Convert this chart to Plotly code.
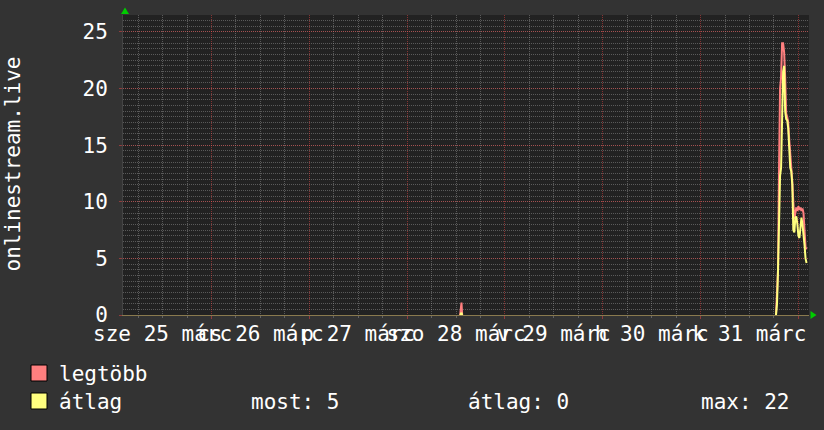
import plotly.graph_objects as go

# ---------------- data ----------------
day_label_times = ["2020-03-25 12:00", "2020-03-26 12:00", "2020-03-27 12:00", "2020-03-28 12:00",
                   "2020-03-29 12:00", "2020-03-30 12:00", "2020-03-31 12:00"]
day_labels = ["sze 25 márc", "cs 26 márc", "p 27 márc", "szo 28 márc",
              "v 29 márc", "h 30 márc", "k 31 márc"]

spike_times = ["2020-03-28 13:00", "2020-03-28 13:10", "2020-03-28 13:20", "2020-03-28 13:30"]
spike_max = [0, 1.1, 1.1, 0]
spike_avg = [0, 0.2, 0.2, 0]

end_times = ["2020-03-31 18:30", "2020-03-31 18:45", "2020-03-31 19:00", "2020-03-31 19:15",
             "2020-03-31 19:30", "2020-03-31 19:45", "2020-03-31 20:00", "2020-03-31 20:15",
             "2020-03-31 20:30", "2020-03-31 20:45", "2020-03-31 21:00", "2020-03-31 21:15",
             "2020-03-31 21:30", "2020-03-31 21:45", "2020-03-31 22:00", "2020-03-31 22:15",
             "2020-03-31 22:30", "2020-03-31 22:45", "2020-03-31 23:00", "2020-03-31 23:15",
             "2020-03-31 23:30", "2020-03-31 23:45", "2020-04-01 00:00", "2020-04-01 00:15",
             "2020-04-01 00:30", "2020-04-01 00:45", "2020-04-01 01:00", "2020-04-01 01:15",
             "2020-04-01 01:30", "2020-04-01 01:45", "2020-04-01 02:00"]
end_max = [0, 1.5, 4, 13, 20, 21, 24, 24, 23.2, 21, 17.8, 17.5, 17, 15.5, 14.5, 12.8,
           11.8, 10, 8.5, 9, 9.5, 9.2, 9.6, 9.3, 9.5, 9.2, 9.4, 9.0, 7.5, 6.0, 5.8]
end_avg = [0, 1, 4, 8, 12.3, 13, 17, 21.5, 22, 18, 17.3, 17.2, 16.5, 14.5, 13, 12.7,
           11.5, 7.5, 7.3, 8.6, 8.7, 8.0, 7.0, 6.8, 8.0, 8.6, 8.0, 7.2, 6.2, 5.0, 4.6]

y_ticks = [0, 5, 10, 15, 20, 25]
series_names = ["legtöbb", "átlag"]
stat_texts = ["most: 5", "átlag: 0", "max: 22"]
y_title = "onlinestream.live"

x_range = ["2020-03-25 02:17", "2020-04-01 02:36"]
y_range = [0, 26.5]

# ---------------- style ----------------
FONT = "DejaVu Sans Mono"
BG = "#333333"
CANVAS = "#222222"
RED = "#FF7F7F"
YEL = "#FFFF7F"
MAJ = "rgba(255,70,70,0.45)"
MIN = "rgba(160,160,160,0.45)"
GREEN = "#00CC00"

L, R, T, B = 123, 15, 15, 115
W, H = 824, 430
PW, PH = W - L - R, H - T - B


def px(x):
    return (x - L) / PW


def py(y):
    return (H - B - y) / PH


gap_time = "2020-03-30 00:00"
x_all = spike_times + [gap_time] + end_times
max_all = spike_max + [None] + end_max
avg_all = spike_avg + [None] + end_avg

fig = go.Figure()
fig.add_trace(go.Scatter(x=x_all, y=max_all, name=series_names[0], mode="lines",
                         line=dict(color=RED, width=2), connectgaps=False,
                         xaxis="x2", yaxis="y", hoverinfo="skip"))
fig.add_trace(go.Scatter(x=x_all, y=avg_all, name=series_names[1], mode="lines",
                         line=dict(color=YEL, width=2), connectgaps=False,
                         xaxis="x2", yaxis="y", hoverinfo="skip"))
# anchor trace for label axis
fig.add_trace(go.Scatter(x=[x_range[0]], y=[None], mode="markers", showlegend=False,
                         xaxis="x", yaxis="y", hoverinfo="skip"))

fig.update_layout(
    width=W, height=H,
    paper_bgcolor=BG, plot_bgcolor=CANVAS,
    margin=dict(l=L, r=R, t=T, b=B, autoexpand=False),
    showlegend=False,
    font=dict(family=FONT, size=21, color="#FFFFFF"),
    xaxis=dict(type="date", range=x_range, tickmode="array", tickvals=day_label_times,
               ticktext=day_labels, tickangle=0, showgrid=False, zeroline=False,
               ticks="", showline=True, linecolor="#8a7a4e", linewidth=1,
               tickfont=dict(family=FONT, size=21, color="#FFFFFF"),
               ticklabelstandoff=0, layer="above traces", fixedrange=True),
    xaxis2=dict(type="date", range=x_range, overlaying="x", side="bottom",
                tick0="2020-03-26 00:00", dtick=86400000, showticklabels=False,
                showgrid=True, gridcolor=MAJ, gridwidth=1, griddash="1px,1px",
                ticks="outside", ticklen=3, tickcolor=MAJ, showline=False, zeroline=False,
                minor=dict(dtick=6 * 3600000, showgrid=True, gridcolor=MIN, griddash="1px,1px",
                           ticks="outside", ticklen=2, tickcolor=MIN),
                fixedrange=True),
    yaxis=dict(range=y_range, tickmode="array", tickvals=y_ticks, showgrid=True,
               gridcolor=MAJ, griddash="1px,1px", zeroline=False,
               ticks="outside", ticklen=3, tickcolor=MAJ,
               showline=True, linecolor="#444444", linewidth=1,
               minor=dict(dtick=0.5, showgrid=True, gridcolor=MIN, griddash="1px,1px"),
               tickfont=dict(family=FONT, size=21, color="#FFFFFF"),
               ticklabelstandoff=7, fixedrange=True),
)

annotations = [
    dict(text=y_title, textangle=-90, x=px(12.5), y=py(164), xref="paper", yref="paper",
         xanchor="center", yanchor="middle", showarrow=False,
         font=dict(family=FONT, size=21, color="#FFFFFF")),
    dict(text=series_names[0], x=px(57), y=py(374), xref="paper", yref="paper",
         xanchor="left", yanchor="middle", showarrow=False,
         font=dict(family=FONT, size=21, color="#FFFFFF")),
    dict(text=series_names[1], x=px(57), y=py(402), xref="paper", yref="paper",
         xanchor="left", yanchor="middle", showarrow=False,
         font=dict(family=FONT, size=21, color="#FFFFFF")),
]
for t, xl in zip(stat_texts, [249, 466, 699]):
    annotations.append(dict(text=t, x=px(xl), y=py(402), xref="paper", yref="paper",
                            xanchor="left", yanchor="middle", showarrow=False,
                            font=dict(family=FONT, size=21, color="#FFFFFF")))
fig.update_layout(annotations=annotations)

shapes = [
    dict(type="rect", xref="paper", yref="paper", x0=px(31), x1=px(47), y0=py(365), y1=py(381),
         fillcolor=RED, line=dict(color="#000000", width=1)),
    dict(type="rect", xref="paper", yref="paper", x0=px(31), x1=px(47), y0=py(393), y1=py(409),
         fillcolor=YEL, line=dict(color="#000000", width=1)),
    dict(type="path", xref="paper", yref="paper",
         path=f"M {px(125)} {py(7.5)} L {px(129)} {py(14)} L {px(121)} {py(14)} Z",
         fillcolor=GREEN, line=dict(color=GREEN, width=0)),
    dict(type="path", xref="paper", yref="paper",
         path=f"M {px(816.5)} {py(315)} L {px(810.5)} {py(311)} L {px(810.5)} {py(319)} Z",
         fillcolor=GREEN, line=dict(color=GREEN, width=0)),
]
fig.update_layout(shapes=shapes)

fig.write_html("out.html", config={"displayModeBar": False},
               post_script="document.body.style.margin='0';document.body.style.padding='0';")
